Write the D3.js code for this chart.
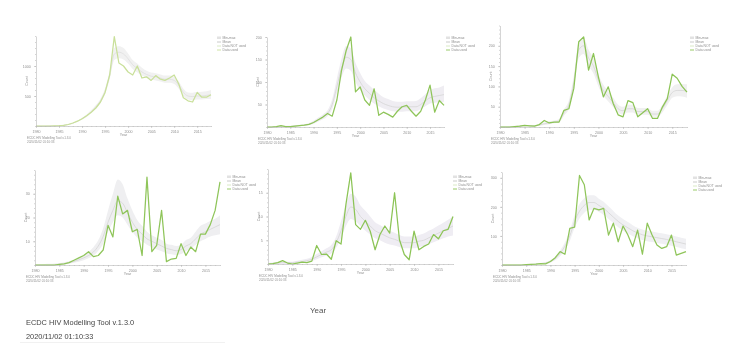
<!DOCTYPE html>
<html>
<head>
<meta charset="utf-8">
<script src="https://cdn.jsdelivr.net/npm/d3@7"></script>
<style>
  body { margin: 0; background: #fff; }
  svg { display: block; font-family: "Liberation Sans", Arial, sans-serif; filter: blur(0.35px); }
</style>
</head>
<body>
<div id="chart"></div>
<script>
// years on the x axis
const years = d3.range(1980, 2019);
const xTickYears = [1980, 1985, 1990, 1995, 2000, 2005, 2010, 2015];
const legendLabels = ["Min-max", "Mean", "Data NOT used", "Data used"];

// panel 1
const p1Data = [0,0,0,0,2,5,12,25,50,80,120,170,230,300,400,560,850,1490,1050,1000,900,850,1000,800,820,760,840,780,760,800,850,700,470,420,400,560,480,480,520];
const p1Mean = [0,0,0,1,2,5,12,25,45,80,120,170,240,320,420,580,850,1200,1230,1200,1120,1020,960,900,860,830,820,800,780,780,760,680,560,500,490,500,500,510,520];
const p1Lo   = [0,0,0,0,1,3,8,20,38,70,105,150,215,290,385,530,780,1100,1130,1110,1040,950,890,840,800,770,760,740,720,720,700,620,500,440,430,440,440,450,450];
const p1Hi   = [0,1,2,3,4,8,16,30,52,90,135,190,265,350,455,630,920,1300,1330,1300,1210,1100,1040,970,920,890,880,860,840,840,820,740,620,560,555,565,570,580,600];
const p1Ticks = [0, 500, 1000];

// panel 2
const p2Data = [0,0,1,3,1,1,2,3,4,6,10,16,22,30,24,60,126,170,200,78,89,60,48,85,26,33,28,22,35,45,48,35,24,35,60,93,33,59,48];
const p2Mean = [0,0,1,1,1,1,2,3,4,6,10,16,22,30,50,90,130,155,150,120,100,85,75,65,58,52,48,45,44,44,45,45,45,50,58,65,68,70,72];
const p2Lo   = [0,0,0,0,0,0,1,2,3,4,7,12,17,24,40,75,110,130,125,100,82,70,60,52,46,41,38,35,34,34,35,35,35,40,46,52,54,55,56];
const p2Hi   = [1,1,2,3,3,3,4,5,6,9,14,21,28,37,62,108,152,180,175,142,120,102,92,82,74,66,62,58,56,56,57,57,58,64,73,82,86,88,92];
const p2Ticks = [0, 50, 100, 150, 200];

// panel 3
const p3Data = [0,0,0,1,2,4,3,2,6,16,10,12,12,41,45,95,210,222,140,181,123,74,99,58,30,25,65,60,25,35,45,21,21,49,70,130,120,100,86];
const p3Mean = [0,0,0,1,2,3,3,3,5,8,10,12,15,35,55,110,190,200,170,150,115,90,75,60,45,40,45,45,38,38,38,32,32,45,65,85,90,90,88];
const p3Lo   = [0,0,0,0,1,2,2,2,3,5,7,9,11,28,45,95,170,180,150,132,100,77,63,49,36,31,36,36,30,30,30,25,25,36,54,72,76,75,72];
const p3Hi   = [1,1,2,3,4,5,5,5,7,11,14,16,20,43,66,126,210,220,190,168,130,104,88,72,55,50,55,55,47,47,47,40,40,55,77,98,105,106,105];
const p3Ticks = [0, 50, 100, 150, 200];

// panel 4
const p4Data = [0,0,0,0,0,0.3,0.5,1,2,3,4,5.6,3.5,4,6.3,16.7,11.8,29,21.5,23,14,15,4,37,5.6,8.3,23,1.4,2.5,2.8,9,4,7.6,5.6,13,13,17,23,35];
const p4Mean = [0,0,0,0,0,0.3,0.6,1,1.5,2.2,3,4,5.5,8,12,18,23,27,26,22,18,15,13,11,10,9,8,7,6.5,6,6.5,8,9,11,13,14,15,16,17];
const p4Lo   = [0,0,0,0,0,0,0.2,0.5,0.9,1.4,2,2.8,4,6,9,14,18,21,20,17,14,11.5,10,8.5,7.5,6.5,5.8,5,4.5,4.2,4.6,5.8,6.8,8.5,10,11,12,12.5,13];
const p4Hi   = [0.3,0.3,0.4,0.5,0.6,0.8,1.2,1.6,2.2,3,4,5.5,7.5,10.5,15.5,23,30,36,34,28,23,19,16.5,14,12.5,11.5,10.5,9,8.5,8,8.5,10.5,11.5,14,16.5,17.5,18.5,19.5,21];
const p4Ticks = [0, 10, 20, 30];

// panel 5
const p5Data = [0,0.1,0.3,0.7,0.2,0,0.2,0.4,0.3,0.6,3.9,2,2.1,1,4.9,4.2,12.5,19.2,8.3,7.3,9.2,6.9,3,6.2,8,6.5,15,5.1,2,0.9,6.9,3,3.7,4.2,6.2,5.3,7,7.3,10];
const p5Mean = [0,0.1,0.2,0.3,0.3,0.3,0.4,0.5,0.7,1,1.5,2,2.5,3,4.5,7,10,12,11.5,10,9,8,7,6.5,6,5.5,5.2,4.8,4.5,4.5,4.5,4.8,5,5.5,6,6.5,7,7.5,8];
const p5Lo   = [0,0,0,0,0,0,0.1,0.2,0.4,0.6,1,1.4,1.8,2.2,3.4,5.5,8,9.5,9,8,7,6.2,5.4,5,4.5,4.1,3.9,3.6,3.3,3.3,3.3,3.6,3.8,4.2,4.6,5,5.4,5.8,6];
const p5Hi   = [0.2,0.3,0.4,0.5,0.5,0.5,0.7,0.9,1.1,1.5,2.1,2.7,3.3,4,5.8,9,12.5,14.8,14.2,12.3,11.2,10,8.8,8.2,7.6,7,6.6,6.1,5.8,5.8,5.8,6.1,6.4,7,7.5,8.1,8.7,9.3,10];
const p5Ticks = [0, 5, 10, 15];

// panel 6
const p6Data = [0,0,0,0,0,1,2,3,5,4,12,25,46,37,126,130,308,276,155,195,190,195,103,144,80,134,103,63,120,37,144,103,69,57,63,103,34,40,46];
const p6Mean = [0,0,0,0,0,1,2,3,5,7,12,22,40,65,100,150,185,205,215,215,205,195,180,165,150,138,128,118,110,104,100,97,94,91,88,84,80,76,72];
const p6Lo   = [0,0,0,0,0,0,1,2,3,4,8,16,30,52,82,128,160,180,190,190,182,172,158,144,130,118,108,99,92,86,82,79,76,73,70,66,62,58,54];
const p6Hi   = [1,1,1,1,2,3,4,5,7,10,16,28,50,78,118,172,210,230,240,240,228,218,202,186,170,158,148,137,128,122,118,115,112,109,106,102,98,94,90];
const p6Ticks = [0, 100, 200, 300];

const W = 738, H = 345;
const axisCol = "#b8b8b8", textCol = "#8e8e8e";

const panels = [
  { data: p1Data, mean: p1Mean, lo: p1Lo, hi: p1Hi, ticks: p1Ticks, ymax: 1500, x0: 36,  x1: 211, yB: 126, yT: 36,  band: "#f1f1f1", line: "#c9e09a", meanCol: "#dedede", legX: 217, legY: 38 },
  { data: p2Data, mean: p2Mean, lo: p2Lo, hi: p2Hi, ticks: p2Ticks, ymax: 200,  x0: 267, x1: 444, yB: 127, yT: 37,  band: "#efedf2", line: "#8fc55a", meanCol: "#d6d6d6", legX: 446, legY: 38 },
  { data: p3Data, mean: p3Mean, lo: p3Lo, hi: p3Hi, ticks: p3Ticks, ymax: 250,  x0: 500, x1: 687, yB: 127, yT: 25.5, band: "#f0f0f0", line: "#8cc456", meanCol: "#d6d6d6", legX: 690, legY: 38 },
  { data: p4Data, mean: p4Mean, lo: p4Lo, hi: p4Hi, ticks: p4Ticks, ymax: 40,   x0: 35,  x1: 220, yB: 265, yT: 170, band: "#efeff1", line: "#8fc55a", meanCol: "#d6d6d6", legX: 227, legY: 177 },
  { data: p5Data, mean: p5Mean, lo: p5Lo, hi: p5Hi, ticks: p5Ticks, ymax: 20,   x0: 268, x1: 453, yB: 264, yT: 169, band: "#efedf3", line: "#8cc456", meanCol: "#d6d6d6", legX: 453, legY: 177 },
  { data: p6Data, mean: p6Mean, lo: p6Lo, hi: p6Hi, ticks: p6Ticks, ymax: 320,  x0: 502, x1: 686, yB: 265, yT: 172, band: "#f0f0f3", line: "#8fc55a", meanCol: "#d6d6d6", legX: 693, legY: 178 }
];

const svg = d3.select("#chart").append("svg")
  .attr("width", W)
  .attr("height", H);

svg.append("rect").attr("width", W).attr("height", H).attr("fill", "#fff");

function drawPanel(p) {
  const x = d3.scaleLinear().domain([1980, 2018]).range([p.x0, p.x1]);
  const y = d3.scaleLinear().domain([0, p.ymax]).range([p.yB, p.yT]);
  const g = svg.append("g");
  const rows = years.map((yr, i) => ({ yr: yr, v: p.data[i], m: p.mean[i], lo: p.lo[i], hi: p.hi[i] }));

  g.append("path").datum(rows)
    .attr("d", d3.area().x(d => x(d.yr)).y0(d => y(d.lo)).y1(d => y(d.hi)).curve(d3.curveMonotoneX))
    .attr("fill", p.band);

  g.append("path").datum(rows)
    .attr("d", d3.line().x(d => x(d.yr)).y(d => y(d.m)).curve(d3.curveMonotoneX))
    .attr("fill", "none").attr("stroke", p.meanCol).attr("stroke-width", 0.8);

  g.append("path").datum(rows)
    .attr("d", d3.line().x(d => x(d.yr)).y(d => y(d.v)))
    .attr("fill", "none").attr("stroke", p.line).attr("stroke-width", 1.25)
    .attr("stroke-linejoin", "round");

  // x axis with yearly minor ticks
  const xa = g.append("g").attr("transform", "translate(0," + p.yB + ")")
    .call(d3.axisBottom(x).tickValues(xTickYears).tickFormat(d3.format("d")).tickSize(2).tickSizeOuter(0));
  g.append("g").attr("transform", "translate(0," + p.yB + ")")
    .call(d3.axisBottom(x).tickValues(years).tickFormat("").tickSize(1).tickSizeOuter(0))
    .select(".domain").remove();

  // y axis with minor ticks
  const step = p.ticks[1] - p.ticks[0];
  const minor = d3.range(0, p.ymax + 1e-9, step / 5);
  const ya = g.append("g").attr("transform", "translate(" + p.x0 + ",0)")
    .call(d3.axisLeft(y).tickValues(p.ticks.slice(1)).tickFormat(d3.format("d")).tickSize(2).tickSizeOuter(0));
  g.append("g").attr("transform", "translate(" + p.x0 + ",0)")
    .call(d3.axisLeft(y).tickValues(minor).tickFormat("").tickSize(1).tickSizeOuter(0))
    .select(".domain").remove();

  g.selectAll(".domain, .tick line").attr("stroke", axisCol).attr("stroke-width", 0.6);
  xa.selectAll("text").attr("font-size", 3.6).attr("fill", textCol).attr("dy", "0.5em");
  ya.selectAll("text").attr("font-size", 3.6).attr("fill", textCol).attr("dx", "-0.1em");

  g.append("text").attr("x", (p.x0 + p.x1) / 2).attr("y", p.yB + 10)
    .attr("text-anchor", "middle").attr("font-size", 3.6).attr("fill", textCol).text("Year");
  g.append("text")
    .attr("transform", "translate(" + (p.x0 - 8) + "," + ((p.yB + p.yT) / 2) + ") rotate(-90)")
    .attr("text-anchor", "middle").attr("font-size", 3.6).attr("fill", textCol).text("Count");

  g.append("text").attr("x", p.x0 - 9).attr("y", p.yB + 13)
    .attr("font-size", 3).attr("fill", textCol).text("ECDC HIV Modelling Tool v.1.3.0");
  g.append("text").attr("x", p.x0 - 9).attr("y", p.yB + 17)
    .attr("font-size", 3).attr("fill", textCol).text("2020/11/02 01:10:33");

  // legend
  const leg = g.append("g").attr("transform", "translate(" + p.legX + "," + p.legY + ")");
  legendLabels.forEach((lab, i) => {
    const row = leg.append("g").attr("transform", "translate(0," + (i * 4) + ")");
    if (i === 0) {
      row.append("rect").attr("x", 0).attr("y", -1.5).attr("width", 4).attr("height", 2.5).attr("fill", "#e2e2e2");
    } else {
      row.append("line").attr("x1", 0).attr("x2", 4).attr("y1", 0).attr("y2", 0)
        .attr("stroke", i === 1 ? "#c4c4c4" : (i === 2 ? "#d6e8bf" : p.line)).attr("stroke-width", 0.9);
    }
    row.append("text").attr("x", 5.5).attr("y", 1.2).attr("font-size", 3.4).attr("fill", textCol).text(lab);
  });
}

panels.forEach(drawPanel);

// page footer
svg.append("text").attr("x", 318).attr("y", 313).attr("text-anchor", "middle")
  .attr("font-size", 8).attr("fill", "#555").text("Year");
svg.append("text").attr("x", 26).attr("y", 325)
  .attr("font-size", 7.4).attr("fill", "#444").text("ECDC HIV Modelling Tool v.1.3.0");
svg.append("text").attr("x", 26).attr("y", 339)
  .attr("font-size", 7.4).attr("fill", "#444").text("2020/11/02 01:10:33");
svg.append("line").attr("x1", 20).attr("x2", 225).attr("y1", 342.5).attr("y2", 342.5)
  .attr("stroke", "#eee").attr("stroke-width", 0.8);
</script>
</body>
</html>
